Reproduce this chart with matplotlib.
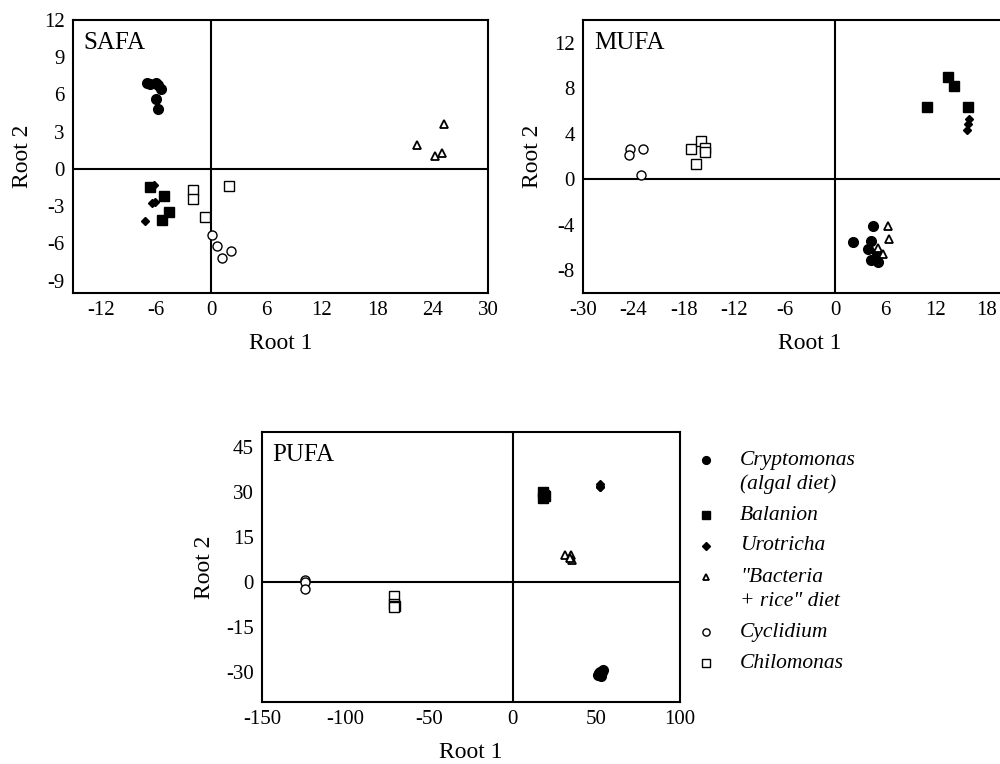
import matplotlib.pyplot as plt
from matplotlib.lines import Line2D

plt.rcParams['font.family'] = ['Liberation Serif', 'DejaVu Serif']
plt.rcParams['axes.unicode_minus'] = False

# group names (legend order)
groups = ["Cryptomonas", "Balanion", "Urotricha", "Bacteria", "Cyclidium", "Chilomonas"]

# SAFA scores (root 1, root 2)
safa_x = {
    "Cryptomonas": [-6.97, -6.69, -6.0, -5.82, -5.46, -5.96, -5.75],
    "Balanion": [-6.69, -5.17, -4.59, -5.35],
    "Urotricha": [-6.25, -6.43, -6.07, -7.16],
    "Bacteria": [25.2, 22.3, 24.3, 25.0],
    "Cyclidium": [0.07, 0.58, 1.19, 2.17],
    "Chilomonas": [-1.95, -2.02, -0.69, 1.92],
}
safa_y = {
    "Cryptomonas": [6.91, 6.84, 6.91, 6.76, 6.44, 5.61, 4.79],
    "Balanion": [-1.49, -2.21, -3.46, -4.15],
    "Urotricha": [-1.33, -2.74, -2.69, -4.23],
    "Bacteria": [3.64, 1.89, 1.04, 1.28],
    "Cyclidium": [-5.32, -6.25, -7.15, -6.6],
    "Chilomonas": [-1.73, -2.39, -3.86, -1.36],
}

# MUFA scores
mufa_x = {
    "Cryptomonas": [4.57, 2.1, 4.25, 3.97, 4.97, 4.29, 5.16],
    "Balanion": [13.5, 14.2, 11.0, 15.8],
    "Urotricha": [15.9, 15.8, 15.7],
    "Bacteria": [6.28, 6.4, 5.09, 5.68],
    "Cyclidium": [-24.4, -24.5, -22.9, -23.1],
    "Chilomonas": [-17.2, -15.9, -15.5, -15.5, -16.6],
}
mufa_y = {
    "Cryptomonas": [-4.10, -5.52, -5.41, -6.16, -6.45, -7.12, -7.27],
    "Balanion": [9.01, 8.2, 6.34, 6.37],
    "Urotricha": [5.26, 4.88, 4.3],
    "Bacteria": [-4.07, -5.23, -6.05, -6.54],
    "Cyclidium": [2.70, 2.12, 2.62, 0.35],
    "Chilomonas": [2.65, 3.37, 2.79, 2.41, 1.31],
}

# PUFA scores
pufa_x = {
    "Cryptomonas": [51.0, 52.0, 53.0, 54.0, 52.5, 53.5, 51.5],
    "Balanion": [18.0, 18.5, 19.0, 18.2],
    "Urotricha": [52.0, 52.3, 52.0, 52.2],
    "Bacteria": [31.3, 34.7, 35.7, 34.5],
    "Cyclidium": [-124.0, -124.0, -124.5],
    "Chilomonas": [-71.0, -71.0, -70.6, -71.2],
}
pufa_y = {
    "Cryptomonas": [-31.0, -30.0, -30.5, -29.5, -31.5, -30.0, -30.2],
    "Balanion": [30.0, 29.0, 28.5, 28.0],
    "Urotricha": [32.0, 31.5, 32.5, 31.8],
    "Bacteria": [9.1, 8.9, 7.2, 8.0],
    "Cyclidium": [0.5, 0.0, -2.2],
    "Chilomonas": [-4.7, -7.2, -8.1, -8.5],
}

legend_labels = [
    ["Cryptomonas", "(algal diet)"],
    ["Balanion"],
    ["Urotricha"],
    ['"Bacteria', '+ rice" diet'],
    ["Cyclidium"],
    ["Chilomonas"],
]

styles = {
    "Cryptomonas": dict(marker="o", ms=7, mfc="black", mec="black"),
    "Balanion": dict(marker="s", ms=6.5, mfc="black", mec="black"),
    "Urotricha": dict(marker="D", ms=4.5, mfc="black", mec="black"),
    "Bacteria": dict(marker="^", ms=6, mfc="white", mec="black", mew=1.3),
    "Cyclidium": dict(marker="o", ms=6.5, mfc="white", mec="black", mew=1.0),
    "Chilomonas": dict(marker="s", ms=6.5, mfc="white", mec="black", mew=1.0),
}
draw_order = ["Cryptomonas", "Balanion", "Urotricha", "Cyclidium", "Chilomonas", "Bacteria"]


def panel(ax, xs, ys, title, xlim, ylim, xticks, yticks):
    ax.axhline(0, color="black", lw=1.5, zorder=1)
    ax.axvline(0, color="black", lw=1.5, zorder=1)
    for g in draw_order:
        if g in xs:
            ax.plot(xs[g], ys[g], ls="none", zorder=3, **styles[g])
    ax.set_xlim(*xlim)
    ax.set_ylim(*ylim)
    ax.set_xticks(xticks)
    ax.set_yticks(yticks)
    ax.tick_params(length=0, labelsize=15, pad=6)
    for s in ax.spines.values():
        s.set_linewidth(1.5)
    ax.text(0.025, 0.955, title, transform=ax.transAxes, fontsize=18, va="top", ha="left")
    ax.set_xlabel("Root 1", fontsize=17, labelpad=9)
    ax.set_ylabel("Root 2", fontsize=17, labelpad=8)


fig = plt.figure(figsize=(10, 7.64), dpi=100)

ax1 = fig.add_axes([0.073, 0.6165, 0.415, 0.3573])
panel(ax1, safa_x, safa_y, "SAFA", (-15, 30), (-10, 12),
      [-12, -6, 0, 6, 12, 18, 24, 30], [-9, -6, -3, 0, 3, 6, 9, 12])

ax2 = fig.add_axes([0.583, 0.6165, 0.4536, 0.3573])
panel(ax2, mufa_x, mufa_y, "MUFA", (-30, 24), (-10, 14),
      [-30, -24, -18, -12, -6, 0, 6, 12, 18], [-8, -4, 0, 4, 8, 12])
ax2.spines["right"].set_visible(False)

ax3 = fig.add_axes([0.262, 0.0812, 0.418, 0.3534])
panel(ax3, pufa_x, pufa_y, "PUFA", (-150, 100), (-40, 50),
      [-150, -100, -50, 0, 50, 100], [-30, -15, 0, 15, 30, 45])

# legend drawn by hand so the marker sits on the first text line
y = 1 - 460 / 764
line_gap = 24 / 764
entry_gap = 31 / 764
for g, lines in zip(groups, legend_labels):
    st = dict(styles[g])
    st["ms"] = st["ms"] * 0.8
    fig.add_artist(Line2D([0.706], [y], ls="none", transform=fig.transFigure, **st))
    for i, t in enumerate(lines):
        fig.text(0.74, y - i * line_gap, t, fontsize=15.5, style="italic", va="center", ha="left")
    y -= line_gap * (len(lines) - 1) + entry_gap

fig.savefig("out.png", dpi=100)
